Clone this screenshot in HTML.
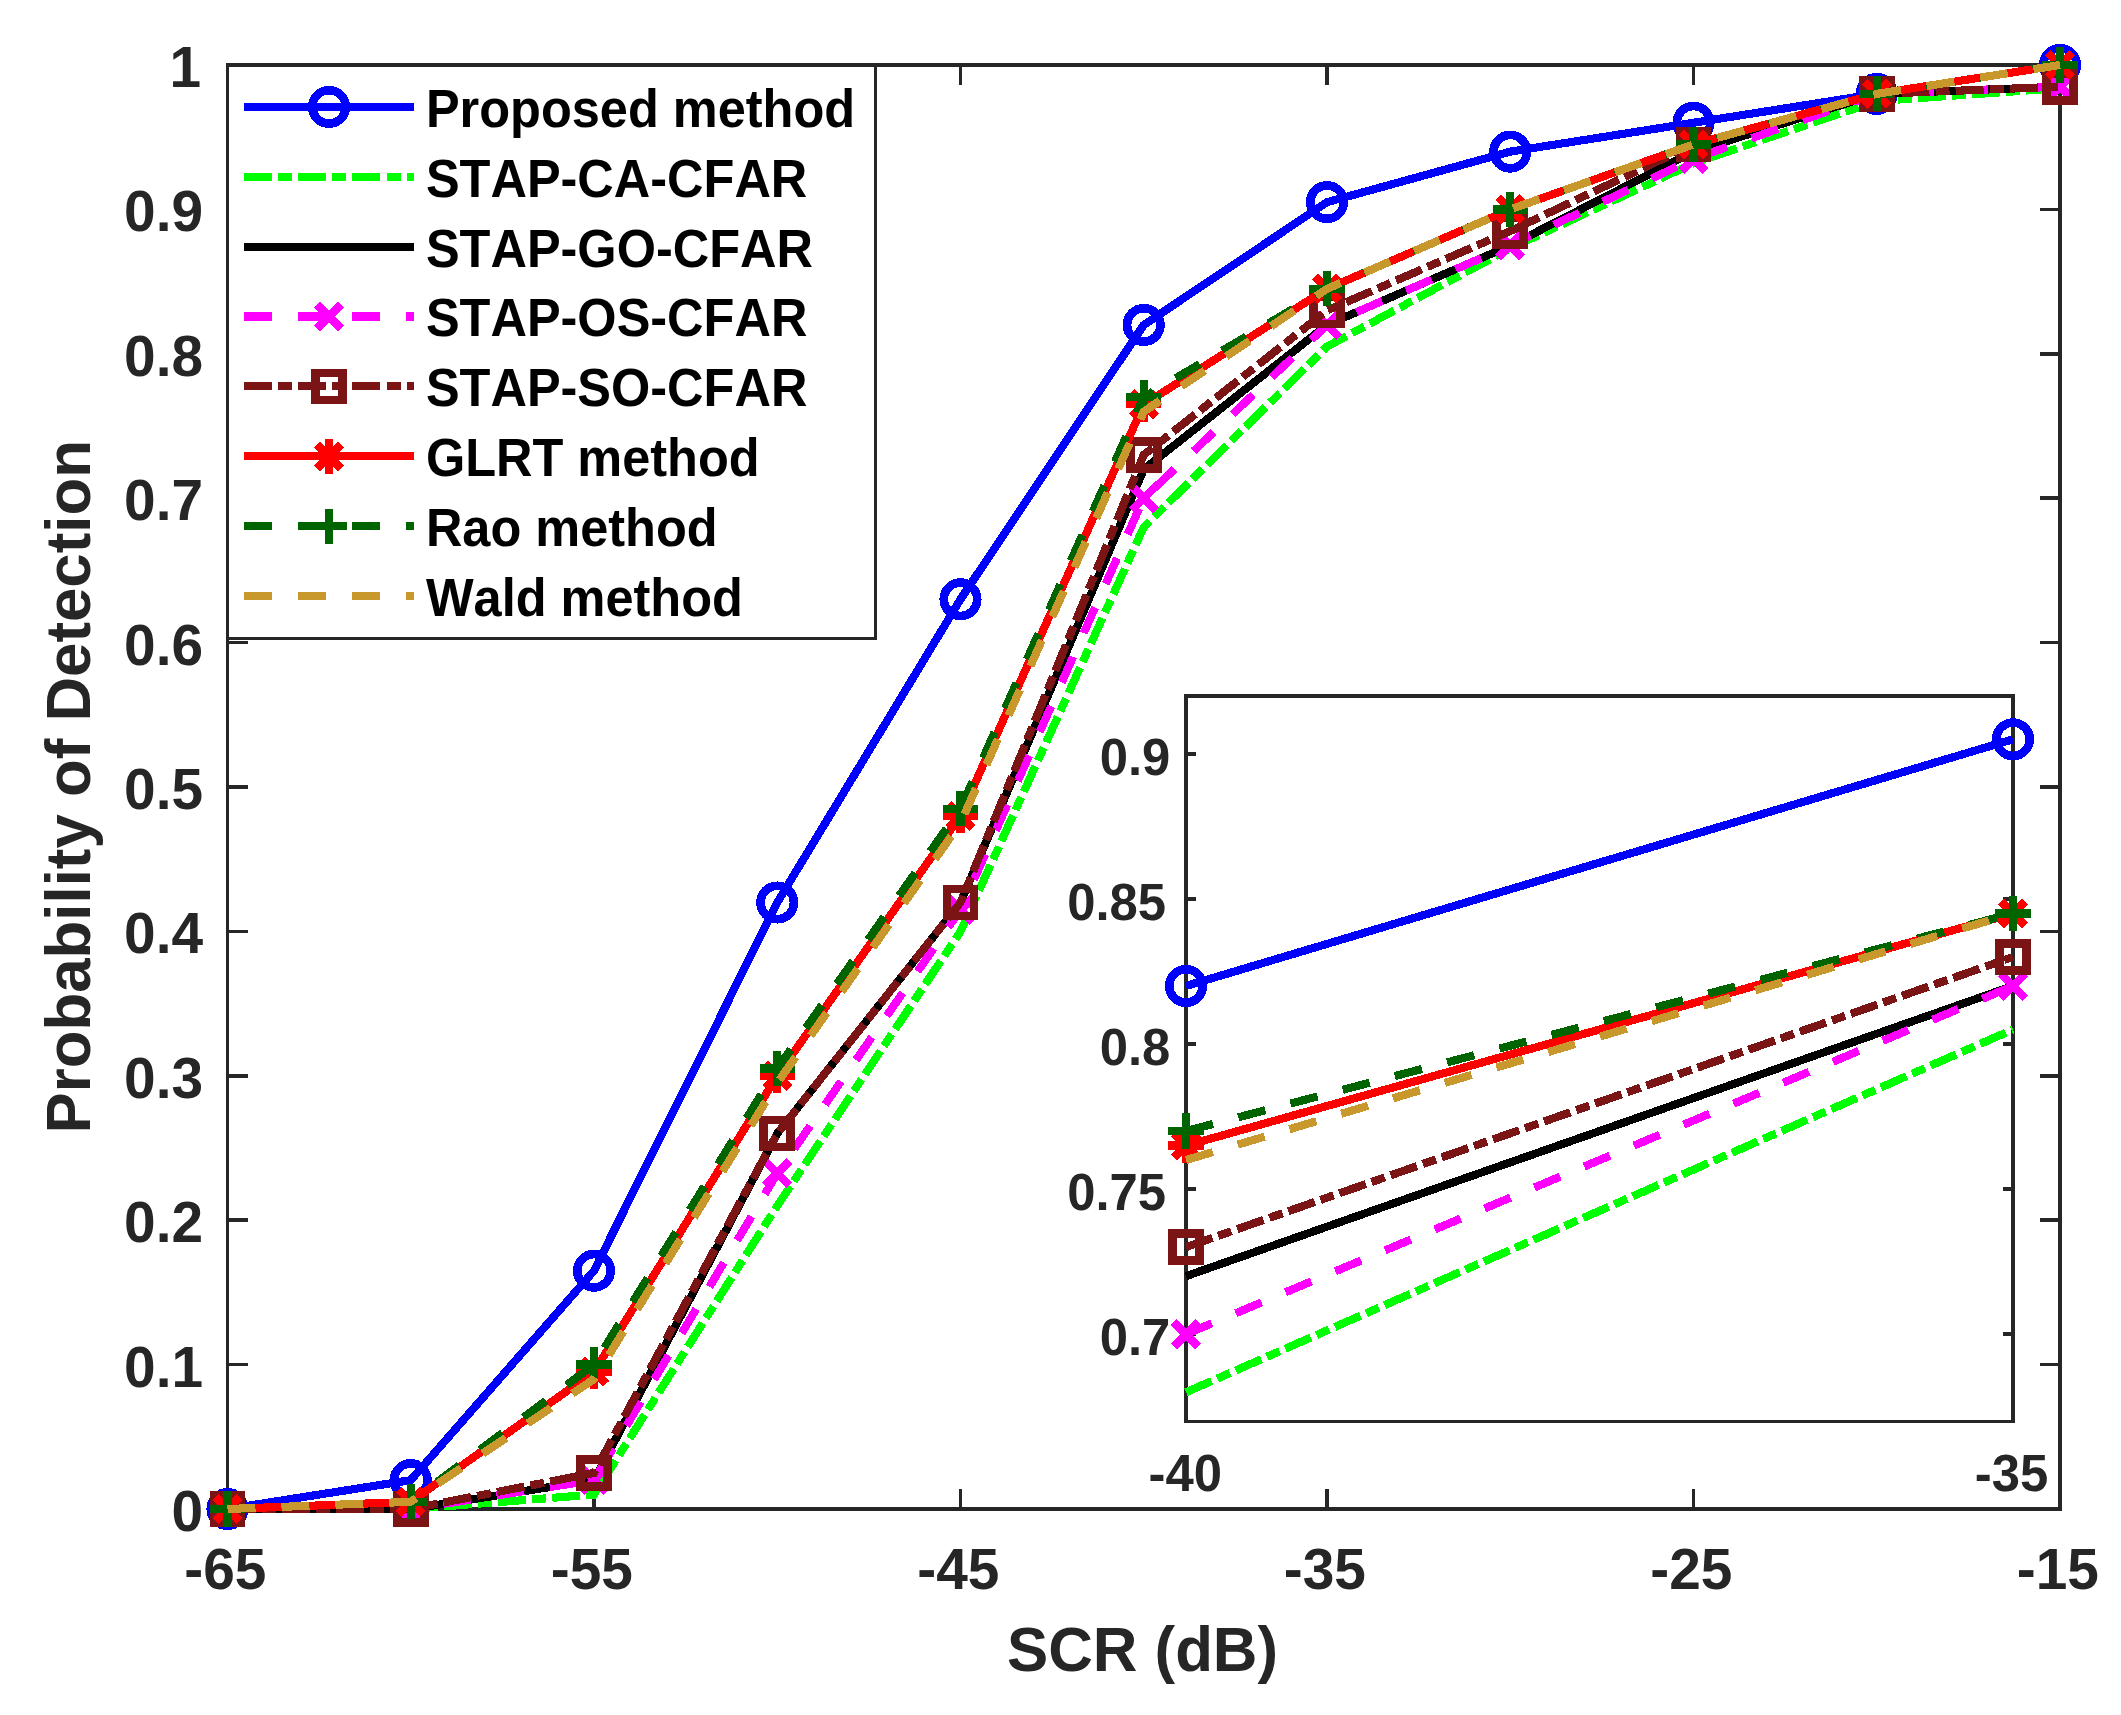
<!DOCTYPE html>
<html lang="en">
<head>
<meta charset="utf-8">
<title>Probability of Detection vs SCR</title>
<style>
html,body{margin:0;padding:0;background:#ffffff;}
body{width:2121px;height:1715px;overflow:hidden;}
svg{display:block;}
text{white-space:pre;font-kerning:none;}
</style>
</head>
<body>
<svg width="2121" height="1715" viewBox="0 0 2121 1715" shape-rendering="crispEdges">
<rect width="2121" height="1715" fill="#ffffff"/>
<g stroke="#262626" stroke-width="3.5" fill="none" stroke-linecap="butt"><rect x="227.5" y="65" width="1832.5" height="1444"/><path d="M594 1509v-20.2M594 65v20.2M960.5 1509v-20.2M960.5 65v20.2M1327 1509v-20.2M1327 65v20.2M1693.5 1509v-20.2M1693.5 65v20.2M227.5 1364.6h20.2M2060 1364.6h-20.2M227.5 1220.2h20.2M2060 1220.2h-20.2M227.5 1075.8h20.2M2060 1075.8h-20.2M227.5 931.4h20.2M2060 931.4h-20.2M227.5 787h20.2M2060 787h-20.2M227.5 642.6h20.2M2060 642.6h-20.2M227.5 498.2h20.2M2060 498.2h-20.2M227.5 353.8h20.2M2060 353.8h-20.2M227.5 209.4h20.2M2060 209.4h-20.2"/></g>
<g font-family="'Liberation Sans', sans-serif" font-weight="bold" fill="#262626" font-size="56.8"><text transform="translate(225.3 1588.7) scale(1 1.020)" text-anchor="middle">-65</text><text transform="translate(591.8 1588.7) scale(1 1.020)" text-anchor="middle">-55</text><text transform="translate(958.3 1588.7) scale(1 1.020)" text-anchor="middle">-45</text><text transform="translate(1324.8 1588.7) scale(1 1.020)" text-anchor="middle">-35</text><text transform="translate(1691.3 1588.7) scale(1 1.020)" text-anchor="middle">-25</text><text transform="translate(2057.8 1588.7) scale(1 1.020)" text-anchor="middle">-15</text><text transform="translate(203 1531) scale(1 1.020)" text-anchor="end">0</text><text transform="translate(203 1386.6) scale(1 1.020)" text-anchor="end">0.1</text><text transform="translate(203 1242.2) scale(1 1.020)" text-anchor="end">0.2</text><text transform="translate(203 1097.8) scale(1 1.020)" text-anchor="end">0.3</text><text transform="translate(203 953.4) scale(1 1.020)" text-anchor="end">0.4</text><text transform="translate(203 809) scale(1 1.020)" text-anchor="end">0.5</text><text transform="translate(203 664.6) scale(1 1.020)" text-anchor="end">0.6</text><text transform="translate(203 520.2) scale(1 1.020)" text-anchor="end">0.7</text><text transform="translate(203 375.8) scale(1 1.020)" text-anchor="end">0.8</text><text transform="translate(203 231.4) scale(1 1.020)" text-anchor="end">0.9</text><text transform="translate(201 87) scale(1 1.020)" text-anchor="end">1</text></g><g font-family="'Liberation Sans', sans-serif" font-weight="bold" fill="#262626" font-size="61.8"><text transform="translate(1142.5 1671.3) scale(1 1.020)" text-anchor="middle">SCR (dB)</text><text transform="translate(90 786.8) rotate(-90) scale(1 1.020)" text-anchor="middle">Probability of Detection</text></g>
<g>
<path d="M227.5 1509L410.75 1480.12L594 1270.74L777.25 902.52L960.5 599.28L1143.75 324.92L1327 202.18L1510.25 151.64L1693.5 122.76L1876.75 93.88L2060 65" stroke="#0000ff" stroke-width="8.1" fill="none" stroke-linejoin="miter" stroke-miterlimit="2"/>
<circle cx="227.5" cy="1509" r="16.7" stroke="#0000ff" stroke-width="8.7" fill="none"/>
<circle cx="410.75" cy="1480.12" r="16.7" stroke="#0000ff" stroke-width="8.7" fill="none"/>
<circle cx="594" cy="1270.74" r="16.7" stroke="#0000ff" stroke-width="8.7" fill="none"/>
<circle cx="777.25" cy="902.52" r="16.7" stroke="#0000ff" stroke-width="8.7" fill="none"/>
<circle cx="960.5" cy="599.28" r="16.7" stroke="#0000ff" stroke-width="8.7" fill="none"/>
<circle cx="1143.75" cy="324.92" r="16.7" stroke="#0000ff" stroke-width="8.7" fill="none"/>
<circle cx="1327" cy="202.18" r="16.7" stroke="#0000ff" stroke-width="8.7" fill="none"/>
<circle cx="1510.25" cy="151.64" r="16.7" stroke="#0000ff" stroke-width="8.7" fill="none"/>
<circle cx="1693.5" cy="122.76" r="16.7" stroke="#0000ff" stroke-width="8.7" fill="none"/>
<circle cx="1876.75" cy="93.88" r="16.7" stroke="#0000ff" stroke-width="8.7" fill="none"/>
<circle cx="2060" cy="65" r="16.7" stroke="#0000ff" stroke-width="8.7" fill="none"/>
<path d="M227.5 1509L410.75 1509L594 1494.56L777.25 1205.76L960.5 931.4L1143.75 527.08L1327 346.58L1510.25 248.39L1693.5 163.19L1876.75 101.1L2060 88.1" stroke="#00ff00" stroke-width="8.1" fill="none" stroke-linejoin="miter" stroke-miterlimit="2" stroke-dasharray="28 6.1 14 6.1"/>
<path d="M227.5 1509L410.75 1509L594 1480.12L777.25 1133.56L960.5 902.52L1143.75 469.32L1327 324.92L1510.25 245.5L1693.5 151.64L1876.75 93.88L2060 86.66" stroke="#000000" stroke-width="8.1" fill="none" stroke-linejoin="miter" stroke-miterlimit="2"/>
<path d="M227.5 1509L410.75 1509L594 1480.12L777.25 1173.27L960.5 909.74L1143.75 498.2L1327 324.92L1510.25 245.5L1693.5 158.86L1876.75 93.88L2060 86.66" stroke="#ff00ff" stroke-width="8.1" fill="none" stroke-linejoin="miter" stroke-miterlimit="2" stroke-dasharray="28 26"/>
<path d="M215.4 1496.9L239.6 1521.1M215.4 1521.1L239.6 1496.9" stroke="#ff00ff" stroke-width="8.25" fill="none"/>
<path d="M398.65 1496.9L422.85 1521.1M398.65 1521.1L422.85 1496.9" stroke="#ff00ff" stroke-width="8.25" fill="none"/>
<path d="M581.9 1468.02L606.1 1492.22M581.9 1492.22L606.1 1468.02" stroke="#ff00ff" stroke-width="8.25" fill="none"/>
<path d="M765.15 1161.17L789.35 1185.37M765.15 1185.37L789.35 1161.17" stroke="#ff00ff" stroke-width="8.25" fill="none"/>
<path d="M948.4 897.64L972.6 921.84M948.4 921.84L972.6 897.64" stroke="#ff00ff" stroke-width="8.25" fill="none"/>
<path d="M1131.65 486.1L1155.85 510.3M1131.65 510.3L1155.85 486.1" stroke="#ff00ff" stroke-width="8.25" fill="none"/>
<path d="M1314.9 312.82L1339.1 337.02M1314.9 337.02L1339.1 312.82" stroke="#ff00ff" stroke-width="8.25" fill="none"/>
<path d="M1498.15 233.4L1522.35 257.6M1498.15 257.6L1522.35 233.4" stroke="#ff00ff" stroke-width="8.25" fill="none"/>
<path d="M1681.4 146.76L1705.6 170.96M1681.4 170.96L1705.6 146.76" stroke="#ff00ff" stroke-width="8.25" fill="none"/>
<path d="M1864.65 81.78L1888.85 105.98M1864.65 105.98L1888.85 81.78" stroke="#ff00ff" stroke-width="8.25" fill="none"/>
<path d="M2047.9 74.56L2072.1 98.76M2047.9 98.76L2072.1 74.56" stroke="#ff00ff" stroke-width="8.25" fill="none"/>
<path d="M227.5 1509L410.75 1509L594 1472.9L777.25 1133.56L960.5 902.52L1143.75 454.88L1327 310.48L1510.25 231.06L1693.5 144.42L1876.75 93.88L2060 86.66" stroke="#7b1414" stroke-width="8.1" fill="none" stroke-linejoin="miter" stroke-miterlimit="2" stroke-dasharray="28 6.1 14 6.1"/>
<rect x="214" y="1495.5" width="27" height="27" stroke="#7b1414" stroke-width="8.7" fill="none"/>
<rect x="397.25" y="1495.5" width="27" height="27" stroke="#7b1414" stroke-width="8.7" fill="none"/>
<rect x="580.5" y="1459.4" width="27" height="27" stroke="#7b1414" stroke-width="8.7" fill="none"/>
<rect x="763.75" y="1120.06" width="27" height="27" stroke="#7b1414" stroke-width="8.7" fill="none"/>
<rect x="947" y="889.02" width="27" height="27" stroke="#7b1414" stroke-width="8.7" fill="none"/>
<rect x="1130.25" y="441.38" width="27" height="27" stroke="#7b1414" stroke-width="8.7" fill="none"/>
<rect x="1313.5" y="296.98" width="27" height="27" stroke="#7b1414" stroke-width="8.7" fill="none"/>
<rect x="1496.75" y="217.56" width="27" height="27" stroke="#7b1414" stroke-width="8.7" fill="none"/>
<rect x="1680" y="130.92" width="27" height="27" stroke="#7b1414" stroke-width="8.7" fill="none"/>
<rect x="1863.25" y="80.38" width="27" height="27" stroke="#7b1414" stroke-width="8.7" fill="none"/>
<rect x="2046.5" y="73.16" width="27" height="27" stroke="#7b1414" stroke-width="8.7" fill="none"/>
<path d="M227.5 1509L410.75 1501.78L594 1371.82L777.25 1075.8L960.5 815.88L1143.75 404.34L1327 288.82L1510.25 209.4L1693.5 144.42L1876.75 93.88L2060 65" stroke="#ff0000" stroke-width="8.1" fill="none" stroke-linejoin="miter" stroke-miterlimit="2"/>
<path d="M209.9 1509H245.1M227.5 1491.4V1526.6M215.4 1496.9L239.6 1521.1M215.4 1521.1L239.6 1496.9" stroke="#ff0000" stroke-width="8.25" fill="none"/>
<path d="M393.15 1501.78H428.35M410.75 1484.18V1519.38M398.65 1489.68L422.85 1513.88M398.65 1513.88L422.85 1489.68" stroke="#ff0000" stroke-width="8.25" fill="none"/>
<path d="M576.4 1371.82H611.6M594 1354.22V1389.42M581.9 1359.72L606.1 1383.92M581.9 1383.92L606.1 1359.72" stroke="#ff0000" stroke-width="8.25" fill="none"/>
<path d="M759.65 1075.8H794.85M777.25 1058.2V1093.4M765.15 1063.7L789.35 1087.9M765.15 1087.9L789.35 1063.7" stroke="#ff0000" stroke-width="8.25" fill="none"/>
<path d="M942.9 815.88H978.1M960.5 798.28V833.48M948.4 803.78L972.6 827.98M948.4 827.98L972.6 803.78" stroke="#ff0000" stroke-width="8.25" fill="none"/>
<path d="M1126.15 404.34H1161.35M1143.75 386.74V421.94M1131.65 392.24L1155.85 416.44M1131.65 416.44L1155.85 392.24" stroke="#ff0000" stroke-width="8.25" fill="none"/>
<path d="M1309.4 288.82H1344.6M1327 271.22V306.42M1314.9 276.72L1339.1 300.92M1314.9 300.92L1339.1 276.72" stroke="#ff0000" stroke-width="8.25" fill="none"/>
<path d="M1492.65 209.4H1527.85M1510.25 191.8V227M1498.15 197.3L1522.35 221.5M1498.15 221.5L1522.35 197.3" stroke="#ff0000" stroke-width="8.25" fill="none"/>
<path d="M1675.9 144.42H1711.1M1693.5 126.82V162.02M1681.4 132.32L1705.6 156.52M1681.4 156.52L1705.6 132.32" stroke="#ff0000" stroke-width="8.25" fill="none"/>
<path d="M1859.15 93.88H1894.35M1876.75 76.28V111.48M1864.65 81.78L1888.85 105.98M1864.65 105.98L1888.85 81.78" stroke="#ff0000" stroke-width="8.25" fill="none"/>
<path d="M2042.4 65H2077.6M2060 47.4V82.6M2047.9 52.9L2072.1 77.1M2047.9 77.1L2072.1 52.9" stroke="#ff0000" stroke-width="8.25" fill="none"/>
<path d="M227.5 1509L410.75 1501.78L594 1364.6L777.25 1068.58L960.5 808.66L1143.75 397.12L1327 288.82L1510.25 209.4L1693.5 144.42L1876.75 93.88L2060 65" stroke="#006400" stroke-width="8.1" fill="none" stroke-linejoin="miter" stroke-miterlimit="2" stroke-dasharray="28 26"/>
<path d="M209.9 1509H245.1M227.5 1491.4V1526.6" stroke="#006400" stroke-width="8.25" fill="none"/>
<path d="M393.15 1501.78H428.35M410.75 1484.18V1519.38" stroke="#006400" stroke-width="8.25" fill="none"/>
<path d="M576.4 1364.6H611.6M594 1347V1382.2" stroke="#006400" stroke-width="8.25" fill="none"/>
<path d="M759.65 1068.58H794.85M777.25 1050.98V1086.18" stroke="#006400" stroke-width="8.25" fill="none"/>
<path d="M942.9 808.66H978.1M960.5 791.06V826.26" stroke="#006400" stroke-width="8.25" fill="none"/>
<path d="M1126.15 397.12H1161.35M1143.75 379.52V414.72" stroke="#006400" stroke-width="8.25" fill="none"/>
<path d="M1309.4 288.82H1344.6M1327 271.22V306.42" stroke="#006400" stroke-width="8.25" fill="none"/>
<path d="M1492.65 209.4H1527.85M1510.25 191.8V227" stroke="#006400" stroke-width="8.25" fill="none"/>
<path d="M1675.9 144.42H1711.1M1693.5 126.82V162.02" stroke="#006400" stroke-width="8.25" fill="none"/>
<path d="M1859.15 93.88H1894.35M1876.75 76.28V111.48" stroke="#006400" stroke-width="8.25" fill="none"/>
<path d="M2042.4 65H2077.6M2060 47.4V82.6" stroke="#006400" stroke-width="8.25" fill="none"/>
<path d="M227.5 1509L410.75 1501.78L594 1379.04L777.25 1083.02L960.5 823.1L1143.75 411.56L1327 288.82L1510.25 209.4L1693.5 144.42L1876.75 93.88L2060 65" stroke="#c8982c" stroke-width="8.1" fill="none" stroke-linejoin="miter" stroke-miterlimit="2" stroke-dasharray="28 26"/>
</g>
<g>
<rect x="1186" y="696" width="827" height="725.5" fill="#ffffff"/>
<g stroke="#262626" stroke-width="3.5" fill="none"><rect x="1186" y="696" width="827" height="725.5"/><path d="M1186 1334.2h10M2013 1334.2h-10M1186 1189.1h10M2013 1189.1h-10M1186 1044h10M2013 1044h-10M1186 898.9h10M2013 898.9h-10M1186 753.8h10M2013 753.8h-10"/></g>
<g font-family="'Liberation Sans', sans-serif" font-weight="bold" fill="#262626" font-size="50.8">
<text transform="translate(1170.3 1355.2) scale(1 1.020)" text-anchor="end">0.7</text>
<text transform="translate(1166 1210.1) scale(1 1.020)" text-anchor="end">0.75</text>
<text transform="translate(1170.3 1065) scale(1 1.020)" text-anchor="end">0.8</text>
<text transform="translate(1166 919.9) scale(1 1.020)" text-anchor="end">0.85</text>
<text transform="translate(1170.3 774.8) scale(1 1.020)" text-anchor="end">0.9</text>
<text transform="translate(1185.3 1491.2) scale(1 1.020)" text-anchor="middle">-40</text>
<text transform="translate(2011.5 1491.2) scale(1 1.020)" text-anchor="middle">-35</text>
</g>
<path d="M1186 985.96L2013 739.29" stroke="#0000ff" stroke-width="8.1" fill="none" stroke-linejoin="miter" stroke-miterlimit="2"/>
<circle cx="1186" cy="985.96" r="16.7" stroke="#0000ff" stroke-width="8.7" fill="none"/>
<circle cx="2013" cy="739.29" r="16.7" stroke="#0000ff" stroke-width="8.7" fill="none"/>
<path d="M1186 1392.24L2013 1029.49" stroke="#00ff00" stroke-width="8.1" fill="none" stroke-linejoin="miter" stroke-miterlimit="2" stroke-dasharray="28 6.1 14 6.1"/>
<path d="M1186 1276.16L2013 985.96" stroke="#000000" stroke-width="8.1" fill="none" stroke-linejoin="miter" stroke-miterlimit="2"/>
<path d="M1186 1334.2L2013 985.96" stroke="#ff00ff" stroke-width="8.1" fill="none" stroke-linejoin="miter" stroke-miterlimit="2" stroke-dasharray="28 26"/>
<path d="M1173.9 1322.1L1198.1 1346.3M1173.9 1346.3L1198.1 1322.1" stroke="#ff00ff" stroke-width="8.25" fill="none"/>
<path d="M2000.9 973.86L2025.1 998.06M2000.9 998.06L2025.1 973.86" stroke="#ff00ff" stroke-width="8.25" fill="none"/>
<path d="M1186 1247.14L2013 956.94" stroke="#7b1414" stroke-width="8.1" fill="none" stroke-linejoin="miter" stroke-miterlimit="2" stroke-dasharray="28 6.1 14 6.1"/>
<rect x="1172.5" y="1233.64" width="27" height="27" stroke="#7b1414" stroke-width="8.7" fill="none"/>
<rect x="1999.5" y="943.44" width="27" height="27" stroke="#7b1414" stroke-width="8.7" fill="none"/>
<path d="M1186 1145.57L2013 913.41" stroke="#ff0000" stroke-width="8.1" fill="none" stroke-linejoin="miter" stroke-miterlimit="2"/>
<path d="M1168.4 1145.57H1203.6M1186 1127.97V1163.17M1173.9 1133.47L1198.1 1157.67M1173.9 1157.67L1198.1 1133.47" stroke="#ff0000" stroke-width="8.25" fill="none"/>
<path d="M1995.4 913.41H2030.6M2013 895.81V931.01M2000.9 901.31L2025.1 925.51M2000.9 925.51L2025.1 901.31" stroke="#ff0000" stroke-width="8.25" fill="none"/>
<path d="M1186 1131.06L2013 913.41" stroke="#006400" stroke-width="8.1" fill="none" stroke-linejoin="miter" stroke-miterlimit="2" stroke-dasharray="28 26"/>
<path d="M1168.4 1131.06H1203.6M1186 1113.46V1148.66" stroke="#006400" stroke-width="8.25" fill="none"/>
<path d="M1995.4 913.41H2030.6M2013 895.81V931.01" stroke="#006400" stroke-width="8.25" fill="none"/>
<path d="M1186 1160.08L2013 913.41" stroke="#c8982c" stroke-width="8.1" fill="none" stroke-linejoin="miter" stroke-miterlimit="2" stroke-dasharray="28 26"/>
</g>
<g>
<rect x="227.5" y="65" width="648.1" height="573.4" fill="#ffffff" stroke="#262626" stroke-width="3.5"/>
<path d="M244 106.85L414 106.85" stroke="#0000ff" stroke-width="8.1" fill="none" stroke-linejoin="miter" stroke-miterlimit="2"/>
<circle cx="329" cy="106.85" r="16.7" stroke="#0000ff" stroke-width="8.7" fill="none"/>
<path d="M244 176.73L414 176.73" stroke="#00ff00" stroke-width="8.1" fill="none" stroke-linejoin="miter" stroke-miterlimit="2" stroke-dasharray="28 6.1 14 6.1"/>
<path d="M244 246.61L414 246.61" stroke="#000000" stroke-width="8.1" fill="none" stroke-linejoin="miter" stroke-miterlimit="2"/>
<path d="M244 316.49L414 316.49" stroke="#ff00ff" stroke-width="8.1" fill="none" stroke-linejoin="miter" stroke-miterlimit="2" stroke-dasharray="28 26"/>
<path d="M316.9 304.39L341.1 328.59M316.9 328.59L341.1 304.39" stroke="#ff00ff" stroke-width="8.25" fill="none"/>
<path d="M244 386.37L414 386.37" stroke="#7b1414" stroke-width="8.1" fill="none" stroke-linejoin="miter" stroke-miterlimit="2" stroke-dasharray="28 6.1 14 6.1"/>
<rect x="315.5" y="372.87" width="27" height="27" stroke="#7b1414" stroke-width="8.7" fill="none"/>
<path d="M244 456.25L414 456.25" stroke="#ff0000" stroke-width="8.1" fill="none" stroke-linejoin="miter" stroke-miterlimit="2"/>
<path d="M311.4 456.25H346.6M329 438.65V473.85M316.9 444.15L341.1 468.35M316.9 468.35L341.1 444.15" stroke="#ff0000" stroke-width="8.25" fill="none"/>
<path d="M244 526.13L414 526.13" stroke="#006400" stroke-width="8.1" fill="none" stroke-linejoin="miter" stroke-miterlimit="2" stroke-dasharray="28 26"/>
<path d="M311.4 526.13H346.6M329 508.53V543.73" stroke="#006400" stroke-width="8.25" fill="none"/>
<path d="M244 596.01L414 596.01" stroke="#c8982c" stroke-width="8.1" fill="none" stroke-linejoin="miter" stroke-miterlimit="2" stroke-dasharray="28 26"/>
<g font-family="'Liberation Sans', sans-serif" font-weight="bold" fill="#000000" font-size="50.5">
<text transform="translate(425.9 126.85) scale(1 1.050)">Proposed method</text>
<text transform="translate(425.9 196.73) scale(1 1.050)">STAP-CA-CFAR</text>
<text transform="translate(425.9 266.61) scale(1 1.050)">STAP-GO-CFAR</text>
<text transform="translate(425.9 336.49) scale(1 1.050)">STAP-OS-CFAR</text>
<text transform="translate(425.9 406.37) scale(1 1.050)">STAP-SO-CFAR</text>
<text transform="translate(425.9 476.25) scale(1 1.050)">GLRT method</text>
<text transform="translate(425.9 546.13) scale(1 1.050)">Rao method</text>
<text transform="translate(425.9 616.01) scale(1 1.050)">Wald method</text>
</g></g>
</svg>
</body>
</html>
